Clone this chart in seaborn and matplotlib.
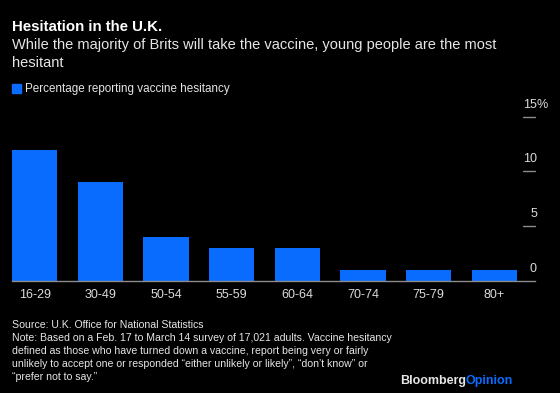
import matplotlib
matplotlib.use("Agg")
import matplotlib.pyplot as plt
import matplotlib.patches as mpatches
import seaborn as sns

# data
age_groups = ["16-29", "30-49", "50-54", "55-59", "60-64", "70-74", "75-79", "80+"]
hesitancy_pct = [12.0, 9.0, 4.0, 3.0, 3.0, 1.0, 1.0, 1.0]
y_ticks = [0, 5, 10, 15]
y_tick_labels = ["0", "5", "10", "15"]

BLUE = "#0a6cff"
BG = "#000000"
GREY = "#8c8c8c"

sns.set_theme(style="dark")
plt.rcParams["font.family"] = ["Liberation Sans", "DejaVu Sans"]

W, H = 560, 393
fig = plt.figure(figsize=(W / 100, H / 100), dpi=100, facecolor=BG)
ax = fig.add_axes([12 / W, 1 - 281 / H, (535 - 12) / W, (281 - 116.7) / H])
ax.set_facecolor(BG)

sns.barplot(x=age_groups, y=hesitancy_pct, color=BLUE, saturation=1,
            width=0.69, linewidth=0, ax=ax)

ax.set_xlim(-0.345, 7.62)
ax.set_ylim(0, 15)
ax.set_xlabel("")
ax.set_ylabel("")
ax.grid(False)
for side in ["top", "right", "left"]:
    ax.spines[side].set_visible(False)
ax.spines["bottom"].set_color(GREY)
ax.spines["bottom"].set_linewidth(1)

ax.tick_params(axis="x", length=0, pad=6, labelsize=9, labelcolor="#dcdcdc")
ax.set_yticks([])

# right-side value ticks: short line with the label sitting above it
for v, lab in zip(y_ticks, y_tick_labels):
    if v > 0:
        ax.plot([7.44, 7.62], [v, v], color=GREY, lw=1, clip_on=False)
    ax.text(7.65, v + 0.55, lab, ha="right", va="bottom", color="#dcdcdc",
            fontsize=9, clip_on=False)
ax.text(7.65, 15 + 0.55, "%", ha="left", va="bottom", color="#dcdcdc",
        fontsize=9, clip_on=False)

# titles
fig.text(12 / W, 1 - 27 / H, "Hesitation in the U.K.", color="white",
         fontsize=10.8, fontweight="bold", va="center", ha="left")
fig.text(12 / W, 1 - 54 / H,
         "While the majority of Brits will take the vaccine, young people are the most\nhesitant",
         color="#e6e6e6", fontsize=10.5, va="center", ha="left", linespacing=1.3)

# legend
fig.patches.append(mpatches.Rectangle((12 / W, 1 - 93 / H), 9 / W, 9 / H,
                                      color=BLUE, transform=fig.transFigure))
fig.text(25 / W, 1 - 89 / H, "Percentage reporting vaccine hesitancy",
         color="#e6e6e6", fontsize=8.4, va="center", ha="left")

# footer
footer = ("Source: U.K. Office for National Statistics\n"
          "Note: Based on a Feb. 17 to March 14 survey of 17,021 adults. Vaccine hesitancy\n"
          "defined as those who have turned down a vaccine, report being very or fairly\n"
          "unlikely to accept one or responded \u201ceither unlikely or likely\u201d, \u201cdon\u2019t know\u201d or\n"
          "\u201cprefer not to say.\u201d")
fig.text(12 / W, 1 - 320 / H, footer, color="#e6e6e6", fontsize=7.6,
         va="top", ha="left", linespacing=1.36)

t = fig.text(400 / W, 1 - 381 / H, "Bloomberg", color="#e6e6e6", fontsize=9,
             fontweight="bold", va="center", ha="left")
fig.canvas.draw()
bb = t.get_window_extent()
fig.text((bb.x1 - 1) / W, 1 - 381 / H, "Opinion", color=BLUE, fontsize=9,
         fontweight="bold", va="center", ha="left")

fig.savefig("out.png", dpi=100, facecolor=BG)
